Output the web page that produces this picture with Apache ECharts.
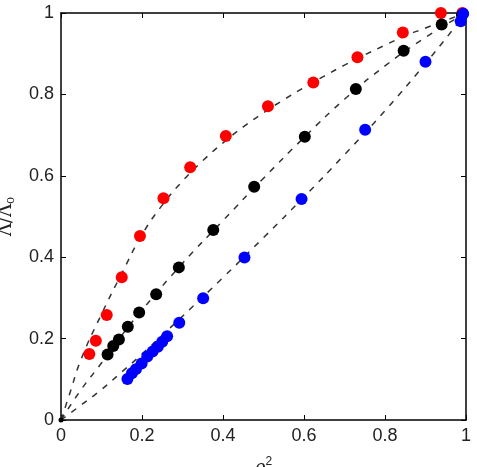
<!DOCTYPE html>
<html>
<head>
<meta charset="utf-8">
<script src="https://cdn.jsdelivr.net/npm/echarts@6/dist/echarts.min.js"></script>
<style>
  html, body { margin: 0; padding: 0; background: #fff; }
  #chart { width: 477px; height: 467px; }
</style>
</head>
<body>
<div id="chart"></div>
<script>
// measured points (rho^2, Lambda/Lambda_o)
const redX = [0.070, 0.086, 0.113, 0.150, 0.195, 0.253, 0.319, 0.407, 0.511, 0.623, 0.732, 0.844, 0.938, 0.991];
const redY = [0.162, 0.195, 0.258, 0.351, 0.452, 0.545, 0.621, 0.698, 0.771, 0.829, 0.891, 0.952, 1.0, 1.0];

const blackX = [0.115, 0.129, 0.143, 0.165, 0.193, 0.235, 0.291, 0.376, 0.477, 0.602, 0.728, 0.846, 0.940, 0.990];
const blackY = [0.161, 0.182, 0.198, 0.229, 0.264, 0.309, 0.375, 0.467, 0.573, 0.696, 0.813, 0.907, 0.972, 0.995];

const blueX = [0.164, 0.175, 0.185, 0.199, 0.213, 0.226, 0.239, 0.250, 0.262, 0.292, 0.351, 0.453, 0.594, 0.751, 0.900, 0.987, 0.993];
const blueY = [0.101, 0.115, 0.125, 0.139, 0.156, 0.168, 0.180, 0.192, 0.206, 0.239, 0.299, 0.399, 0.543, 0.713, 0.880, 0.980, 0.998];

// dashed fit curves
const upperX = [0, 0.02, 0.05, 0.1, 0.15, 0.2, 0.25, 0.3, 0.35, 0.4, 0.45, 0.5, 0.55, 0.6, 0.65, 0.7, 0.75, 0.8, 0.85, 0.9, 0.95, 1];
const upperY = [0, 0.06, 0.15, 0.26, 0.36, 0.455, 0.528, 0.587, 0.637, 0.681, 0.72, 0.755, 0.787, 0.817, 0.845, 0.872, 0.897, 0.921, 0.944, 0.963, 0.982, 1];

const middleX = [0, 0.05, 0.1, 0.15, 0.2, 0.3, 0.4, 0.5, 0.6, 0.7, 0.8, 0.9, 1];
const middleY = [0, 0.075, 0.14, 0.208, 0.27, 0.385, 0.49, 0.594, 0.694, 0.788, 0.87, 0.94, 1];

const lowerX = [0, 0.05, 0.1, 0.15, 0.2, 0.3, 0.4, 0.5, 0.6, 0.7, 0.8, 0.9, 1];
const lowerY = [0, 0.037, 0.075, 0.118, 0.162, 0.255, 0.35, 0.448, 0.548, 0.652, 0.76, 0.876, 1];

const originX = [0];
const originY = [0];

const zip = (xs, ys) => xs.map((x, i) => [x, ys[i]]);

const chart = echarts.init(document.getElementById('chart'));

const font = 'Liberation Sans, Arial, sans-serif';
const fmt = v => (v === 0 ? '0' : v === 1 ? '1' : v.toFixed(1));

function axisBase(show) {
  return {
    type: 'value', min: 0, max: 1, interval: 0.2,
    axisLine: { show: true, onZero: false, lineStyle: { color: '#000', width: 1.5 } },
    axisTick: { show: true, inside: true, length: 5, lineStyle: { color: '#000', width: 1 } },
    axisLabel: { show: show, color: '#222', fontSize: 18, fontFamily: font, formatter: fmt, margin: 7 },
    splitLine: { show: false }
  };
}

const dashed = (xs, ys) => ({
  type: 'line', data: zip(xs, ys), smooth: true, symbol: 'none', silent: true,
  lineStyle: { color: '#333', width: 1.5, type: [6, 7] }, z: 1
});

const dots = (xs, ys, color, size) => ({
  type: 'scatter', data: zip(xs, ys), symbol: 'circle', symbolSize: size || 12,
  itemStyle: { color: color, opacity: 1 }, clip: false, z: 3
});

chart.setOption({
  animation: false,
  grid: { left: 61, right: 11, top: 13, bottom: 47, outerBoundsMode: 'none', containLabel: false },
  xAxis: [
    Object.assign(axisBase(true), {
      position: 'bottom', name: '{i|ρ}{sup|2}', nameLocation: 'middle', nameGap: 36,
      nameTextStyle: {
        rich: {
          i: { fontFamily: 'DejaVu Serif', fontStyle: 'italic', fontSize: 18, color: '#222' },
          sup: { fontFamily: font, fontSize: 12, color: '#222', verticalAlign: 'bottom', padding: [0, 0, 12, 0] }
        }
      }
    }),
    Object.assign(axisBase(false), { position: 'top' })
  ],
  yAxis: [
    Object.assign(axisBase(true), {
      position: 'left', name: '{t|Λ/Λ}{sub|o}', nameLocation: 'middle', nameGap: 44,
      nameTextStyle: {
        rich: {
          t: { fontFamily: 'DejaVu Serif', fontSize: 18, color: '#222' },
          sub: { fontFamily: 'DejaVu Serif', fontSize: 12, color: '#222', padding: [9, 0, 0, 0] }
        }
      }
    }),
    Object.assign(axisBase(false), { position: 'right' })
  ],
  series: [
    dashed(upperX, upperY),
    dashed(middleX, middleY),
    dashed(lowerX, lowerY),
    dots(redX, redY, '#ff0000'),
    dots(blackX, blackY, '#000000'),
    dots(blueX, blueY, '#0000ff'),
    dots(originX, originY, '#000000', 5)
  ]
});
</script>
</body>
</html>
